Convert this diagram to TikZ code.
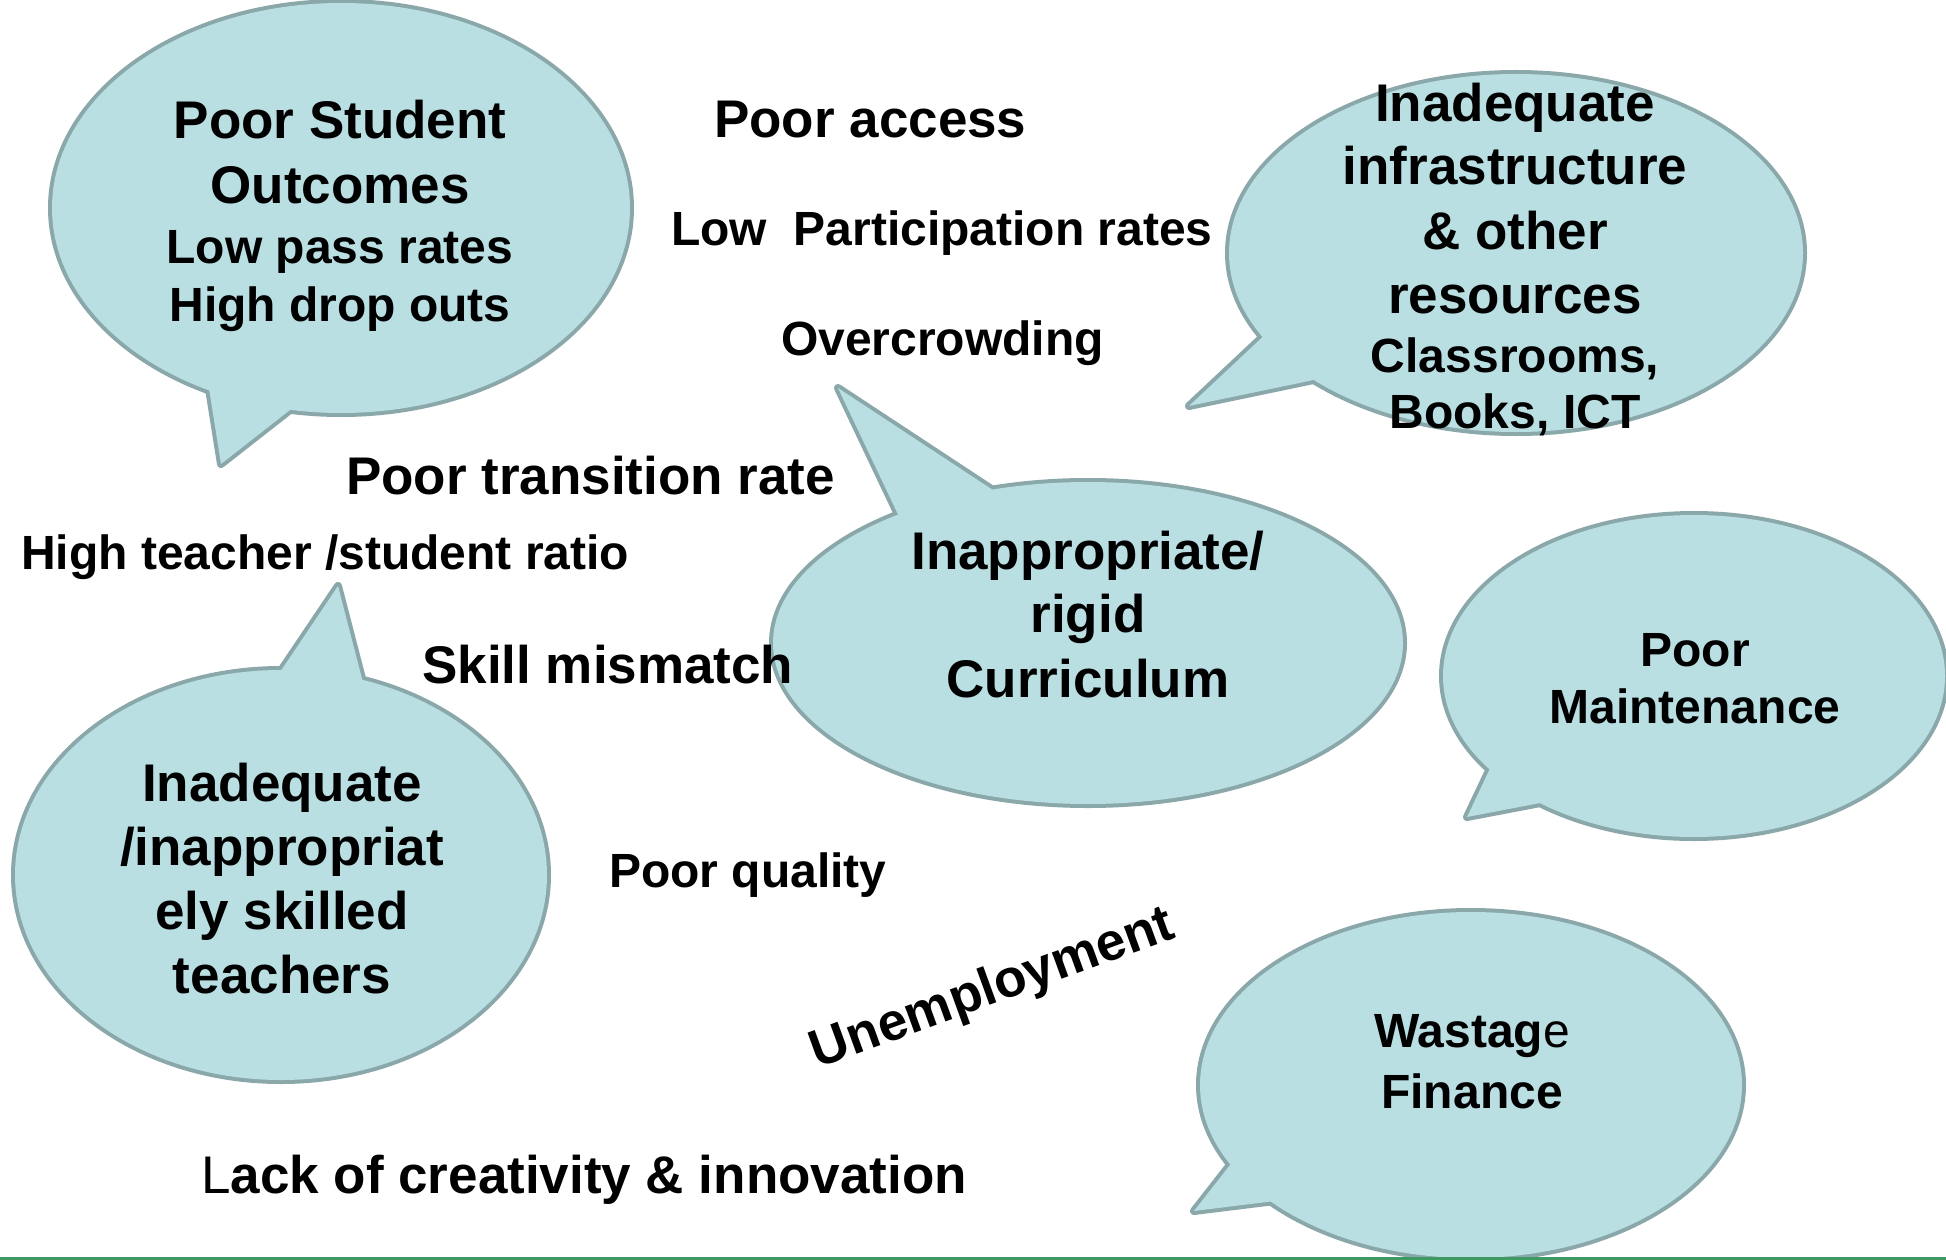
\documentclass[tikz,border=0pt]{standalone}
\usepackage{fontspec}
\setmainfont{Liberation Sans}
\definecolor{bubfillc}{HTML}{B9DFE2}
\definecolor{bubdrawc}{HTML}{8AA7A9}
\definecolor{greenline}{HTML}{3D9A62}
\tikzset{
  bubline/.style={draw=bubdrawc, line width=8pt, line join=round},
  bubfill/.style={fill=bubfillc},
  bigtxt/.style={font=\bfseries\fontsize{53}{60}\selectfont, inner sep=0pt, anchor=base},
  medtxt/.style={font=\bfseries\fontsize{48}{56}\selectfont, inner sep=0pt, anchor=base},
}
\newcommand\speech[4]{%
  \path[bubline] #1 ellipse [x radius=#2, y radius=#3];
  \path[bubline] #4 -- cycle;
  \path[bubfill] #1 ellipse [x radius=#2, y radius=#3];
  \path[bubfill] #4 -- cycle;
}
\begin{document}
\begin{tikzpicture}[x=1pt,y=-1pt]
\useasboundingbox (0,0) rectangle (1946,1260);
\fill[white] (0,0) rectangle (1946,1260);

% bubble centres
\coordinate (cA) at (341,208);
\coordinate (cB) at (1516,253);
\coordinate (cC) at (1088,643);
\coordinate (cD) at (1694,676);
\coordinate (cE) at (281,875);
\coordinate (cF) at (1471,1085);

\speech{(cA)}{289}{205}{(207,376) -- (221,464) -- (304,399)}
\speech{(cB)}{287}{179}{(1270,330) -- (1189,406) -- (1328,377)}
\speech{(cC)}{315}{161}{(903,525) -- (838,388) -- (1005,498)}
\speech{(cD)}{251}{161}{(1495,758) -- (1467,817) -- (1556,800)}
\speech{(cE)}{266}{205}{(272,684) -- (338,586) -- (366,694)}
\speech{(cF)}{271}{173}{(1237,1156) -- (1194,1211) -- (1291,1199)}

% bubble A text
\node[bigtxt] (a1) at (340,139) {Poor Student};
\node[bigtxt] (a2) at (340,204) {Outcomes};
\node[medtxt] (a3) at (340,263) {Low pass rates};
\node[medtxt] (a4) at (340,321) {High drop outs};

% bubble B text
\node[bigtxt] (b1) at (1515,122) {Inadequate};
\node[bigtxt] (b2) at (1515,185) {infrastructure};
\node[bigtxt] (b3) at (1515,249) {\& other};
\node[bigtxt] (b4) at (1515,313) {resources};
\node[medtxt] (b5) at (1515,372) {Classrooms,};
\node[medtxt] (b6) at (1515,428) {Books, ICT};

% bubble C text
\node[bigtxt] (c1) at (1088,569) {Inappropriate/};
\node[bigtxt] (c2) at (1088,632) {rigid};
\node[bigtxt] (c3) at (1088,697) {Curriculum};

% bubble D text
\node[medtxt] (d1) at (1695,666) {Poor};
\node[medtxt] (d2) at (1695,723) {Maintenance};

% bubble E text
\node[bigtxt] (e1) at (282,801) {Inadequate};
\node[bigtxt] (e2) at (282,865) {/inappropriat};
\node[bigtxt] (e3) at (282,929) {ely skilled};
\node[bigtxt] (e4) at (282,993) {teachers};

% bubble F text
\node[medtxt] (f1) at (1472,1047) {Wastag{\mdseries e}};
\node[medtxt] (f2) at (1472,1108) {Finance};

% free texts
\node[bigtxt, anchor=base west] (t1) at (714,138) {Poor access};
\node[medtxt, anchor=base west] (t2) at (671,245) {Low\ \ Participation rates};
\node[medtxt, anchor=base west] (t3) at (781,355) {Overcrowding};
\node[bigtxt, anchor=base west] (t4) at (346,494) {Poor transition rate};
\node[medtxt, anchor=base west] (t5) at (21,569) {High teacher /student ratio};
\node[bigtxt, anchor=base west] (t6) at (422,683) {Skill mismatch};
\node[medtxt, anchor=base west] (t7) at (609,887) {Poor quality};
\node[bigtxt, anchor=center, rotate=20] (t8) at (993,990) {Unemployment};
\node[bigtxt, anchor=base west] (t9) at (201,1193) {{\mdseries L}ack of creativity \& innovation};

% bottom rule
\coordinate (gl) at (0,1258.5);
\coordinate (gr) at (1946,1258.5);
\draw[greenline, line width=3pt] (gl) -- (gr);
\end{tikzpicture}
\end{document}
